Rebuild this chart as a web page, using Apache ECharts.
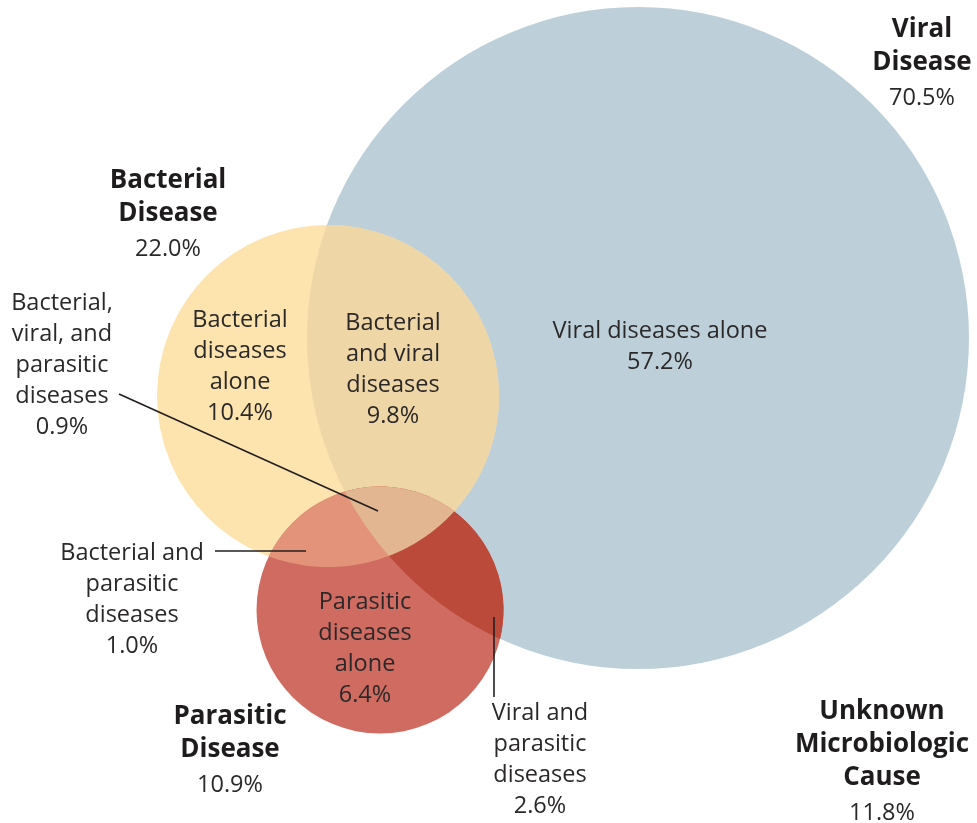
<!DOCTYPE html>
<html>
<head>
<meta charset="utf-8">
<title>Microbiologic causes</title>
<script src="https://cdn.jsdelivr.net/npm/echarts@6/dist/echarts.min.js"></script>
<style>
  html, body { margin: 0; padding: 0; background: #fff; }
  #chart { width: 977px; height: 823px; }
</style>
</head>
<body>
<div id="chart"></div>
<script>
// data
const setNames = ['Viral\nDisease', 'Bacterial\nDisease', 'Parasitic\nDisease', 'Unknown\nMicrobiologic\nCause'];
const setPcts = [70.5, 22.0, 10.9, 11.8];
const regionNames = [
  'Viral diseases alone',
  'Bacterial\ndiseases\nalone',
  'Bacterial\nand viral\ndiseases',
  'Parasitic\ndiseases\nalone',
  'Bacterial and\nparasitic\ndiseases',
  'Viral and\nparasitic\ndiseases',
  'Bacterial,\nviral, and\nparasitic\ndiseases'
];
const regionPcts = [57.2, 10.4, 9.8, 6.4, 1.0, 2.6, 0.9];

// layout (axis units = pixels of the figure)
const circleLayout = [[638, 338, 331], [328, 396, 171], [380, 610, 123.5]]; // viral, bacterial, parasitic
const setLabelPos = [[922, 30], [168, 181], [230, 717], [882, 712]];
const regionLabelPos = [[660, 331], [240, 320], [393, 323], [365, 602], [132, 553], [540, 713], [62, 303]];
const leaderLines = [[119, 394, 378, 511], [215, 551, 306, 551], [494, 617, 494, 697]];
const overlaps = [[0, 1], [0, 2], [1, 2], [0, 1, 2]];

const circleColors = ['#bdd0da', '#fde3ae', '#cf6b60'];
const overlapColors = ['#eed6a6', '#bc4a3b', '#e2937a', '#e2b690'];
const textColor = '#2b2829';
const fontFamily = '"Open Sans", Lato, sans-serif';

const TWO_PI = Math.PI * 2;
const norm = t => ((t % TWO_PI) + TWO_PI) % TWO_PI;

function toPx(api, c) {
  const p = api.coord([c[0], c[1]]);
  return { x: p[0], y: p[1], r: api.size([c[2], 0])[0] };
}

function intersect(a, b) {
  const dx = b.x - a.x, dy = b.y - a.y, d = Math.hypot(dx, dy);
  const l = (a.r * a.r - b.r * b.r + d * d) / (2 * d);
  const h = Math.sqrt(Math.max(0, a.r * a.r - l * l));
  const mx = a.x + dx * l / d, my = a.y + dy * l / d;
  return [[mx + h * dy / d, my - h * dx / d], [mx - h * dy / d, my + h * dx / d]];
}

const ang = (c, p) => Math.atan2(p[1] - c.y, p[0] - c.x);

function lensPath(a, b) {
  let [P, Q] = intersect(a, b);
  let span = norm(ang(a, Q) - ang(a, P));
  const toB = norm(Math.atan2(b.y - a.y, b.x - a.x) - ang(a, P));
  if (toB > span) { [P, Q] = [Q, P]; span = TWO_PI - span; }
  const spanB = norm(ang(b, P) - ang(b, Q));
  return 'M' + P[0] + ' ' + P[1] +
    ' A' + a.r + ' ' + a.r + ' 0 ' + (span > Math.PI ? 1 : 0) + ' 1 ' + Q[0] + ' ' + Q[1] +
    ' A' + b.r + ' ' + b.r + ' 0 ' + (spanB > Math.PI ? 1 : 0) + ' 1 ' + P[0] + ' ' + P[1] + ' Z';
}

function triplePath(cs) {
  const verts = [];
  [[0, 1, 2], [1, 2, 0], [0, 2, 1]].forEach(([i, j, k]) => {
    const pts = intersect(cs[i], cs[j]);
    const dist = p => Math.hypot(p[0] - cs[k].x, p[1] - cs[k].y) - cs[k].r;
    verts.push({ p: dist(pts[0]) < dist(pts[1]) ? pts[0] : pts[1], on: [i, j] });
  });
  const cx = (verts[0].p[0] + verts[1].p[0] + verts[2].p[0]) / 3;
  const cy = (verts[0].p[1] + verts[1].p[1] + verts[2].p[1]) / 3;
  verts.sort((u, v) => Math.atan2(u.p[1] - cy, u.p[0] - cx) - Math.atan2(v.p[1] - cy, v.p[0] - cx));
  let d = 'M' + verts[0].p[0] + ' ' + verts[0].p[1];
  for (let n = 0; n < 3; n++) {
    const u = verts[n], v = verts[(n + 1) % 3];
    const shared = u.on.find(c => v.on.includes(c));
    const r = cs[shared].r;
    d += ' A' + r + ' ' + r + ' 0 0 1 ' + v.p[0] + ' ' + v.p[1];
  }
  return d + ' Z';
}

const chart = echarts.init(document.getElementById('chart'));

chart.setOption({
  animation: false,
  grid: { left: 0, right: 0, top: 0, bottom: 0 },
  xAxis: { type: 'value', min: 0, max: 977, show: false },
  yAxis: { type: 'value', min: 0, max: 823, inverse: true, show: false },
  series: [
    {
      name: 'circles',
      type: 'custom',
      silent: true,
      data: circleLayout,
      renderItem: (params, api) => {
        const c = toPx(api, [api.value(0), api.value(1), api.value(2)]);
        return {
          type: 'circle',
          shape: { cx: c.x, cy: c.y, r: c.r },
          style: { fill: circleColors[params.dataIndex] }
        };
      }
    },
    {
      name: 'overlaps',
      type: 'custom',
      silent: true,
      data: overlaps.map((o, i) => [i]),
      renderItem: (params, api) => {
        const o = overlaps[params.dataIndex];
        const cs = circleLayout.map(c => toPx(api, c));
        const path = o.length === 2 ? lensPath(cs[o[0]], cs[o[1]]) : triplePath(cs);
        return {
          type: 'path',
          shape: { pathData: path },
          style: { fill: overlapColors[params.dataIndex] }
        };
      }
    },
    {
      name: 'leaders',
      type: 'custom',
      silent: true,
      data: leaderLines,
      renderItem: (params, api) => {
        const p1 = api.coord([api.value(0), api.value(1)]);
        const p2 = api.coord([api.value(2), api.value(3)]);
        return {
          type: 'line',
          shape: { x1: p1[0], y1: p1[1], x2: p2[0], y2: p2[1] },
          style: { stroke: '#231f20', lineWidth: 1.6 }
        };
      }
    },
    {
      name: 'region labels',
      type: 'custom',
      silent: true,
      data: regionLabelPos,
      renderItem: (params, api) => {
        const p = api.coord([api.value(0), api.value(1)]);
        const i = params.dataIndex;
        return {
          type: 'text',
          x: p[0],
          y: p[1] - 15.5,
          style: {
            text: regionNames[i] + '\n' + regionPcts[i].toFixed(1) + '%',
            align: 'center',
            verticalAlign: 'top',
            fill: textColor,
            font: '23.5px ' + fontFamily,
            lineHeight: 31
          }
        };
      }
    },
    {
      name: 'set labels',
      type: 'custom',
      silent: true,
      data: setLabelPos,
      renderItem: (params, api) => {
        const p = api.coord([api.value(0), api.value(1)]);
        const i = params.dataIndex;
        const txt = setNames[i].split('\n').map(s => '{b|' + s + '}').join('\n') +
          '\n{p|' + setPcts[i].toFixed(1) + '%}';
        return {
          type: 'text',
          x: p[0],
          y: p[1] - 16.5,
          style: {
            text: txt,
            align: 'center',
            verticalAlign: 'top',
            fill: textColor,
            rich: {
              b: { fontFamily: fontFamily, fontWeight: 'bold', fontSize: 26, lineHeight: 33, fill: '#1f1c1d', align: 'center' },
              p: { fontFamily: fontFamily, fontSize: 23.5, lineHeight: 37, fill: textColor, align: 'center' }
            }
          }
        };
      }
    }
  ]
});
</script>
</body>
</html>
